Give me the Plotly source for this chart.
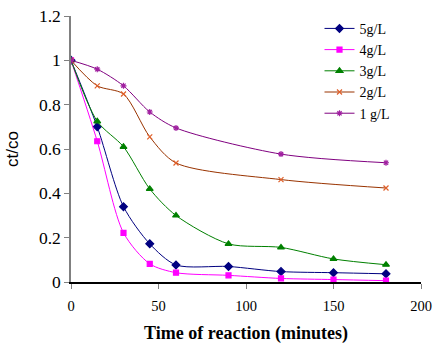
import plotly.graph_objects as go

t_full = [0, 15, 30, 45, 60, 90, 120, 150, 180]
t_part = [0, 15, 30, 45, 60, 120, 180]

y_5 = [1.0, 0.70, 0.34, 0.172, 0.077, 0.07, 0.047, 0.042, 0.037]
y_4 = [1.0, 0.635, 0.222, 0.082, 0.042, 0.03, 0.016, 0.011, 0.006]
y_3 = [1.0, 0.725, 0.61, 0.42, 0.30, 0.172, 0.156, 0.104, 0.078]
y_2 = [1.0, 0.885, 0.848, 0.655, 0.537, 0.462, 0.424]
y_1 = [1.0, 0.96, 0.885, 0.767, 0.695, 0.577, 0.538]

series = [
    ("5g/L", t_full, y_5, "#000080", "#000080", "diamond", 6),
    ("4g/L", t_full, y_4, "#FF00FF", "#FF00FF", "square", 5),
    ("3g/L", t_full, y_3, "#008000", "#008000", "triangle-up", 6),
    ("2g/L", t_part, y_2, "#993300", "#E0602A", "x-thin-open", 5),
    ("1 g/L", t_part, y_1, "#800080", "#A020A0", "asterisk-open", 5),
]

fig = go.Figure()
for name, xs, ys, lc, mc, sym, sz in series:
    fig.add_trace(go.Scatter(
        x=xs, y=ys, name=name, mode="lines+markers",
        line=dict(color=lc, width=1, shape="spline", smoothing=0.8),
        marker=dict(symbol=sym, size=sz, color=mc, line=dict(color=mc, width=1.2)),
    ))

serif = "Liberation Serif"
fig.update_layout(
    width=437, height=344,
    margin=dict(l=71, r=16, t=16, b=62, autoexpand=False),
    paper_bgcolor="white", plot_bgcolor="white",
    font=dict(family=serif, color="black"),
    showlegend=True,
    legend=dict(x=0.71, y=1.012, xanchor="left", yanchor="top",
                font=dict(family=serif, size=14), bgcolor="rgba(0,0,0,0)",
                tracegroupgap=0, itemwidth=30),
    xaxis=dict(range=[0, 200], dtick=50, showgrid=False, zeroline=False,
               automargin=False,
               showline=True, linecolor="black", linewidth=1.5,
               ticks="outside", ticklen=5, tickcolor="#808080",
               ticklabelstandoff=5,
               tickfont=dict(family=serif, size=14.5),
               title=dict(text="<b>Time of reaction (minutes)</b>",
                          font=dict(family=serif, size=18), standoff=14)),
    yaxis=dict(range=[0, 1.2], dtick=0.2, showgrid=False, zeroline=False,
               automargin=False,
               showline=True, linecolor="#808080", linewidth=1.5,
               ticks="outside", ticklen=5, tickcolor="#808080",
               tickfont=dict(family=serif, size=17.5),
               tickvals=[0, 0.2, 0.4, 0.6, 0.8, 1.0, 1.2],
               ticktext=["0", "0.2", "0.4", "0.6", "0.8", "1", "1.2"],
               title=dict(text="ct/co", font=dict(family="Liberation Sans", size=17),
                          standoff=16)),
)

fig.write_html("out.html")
